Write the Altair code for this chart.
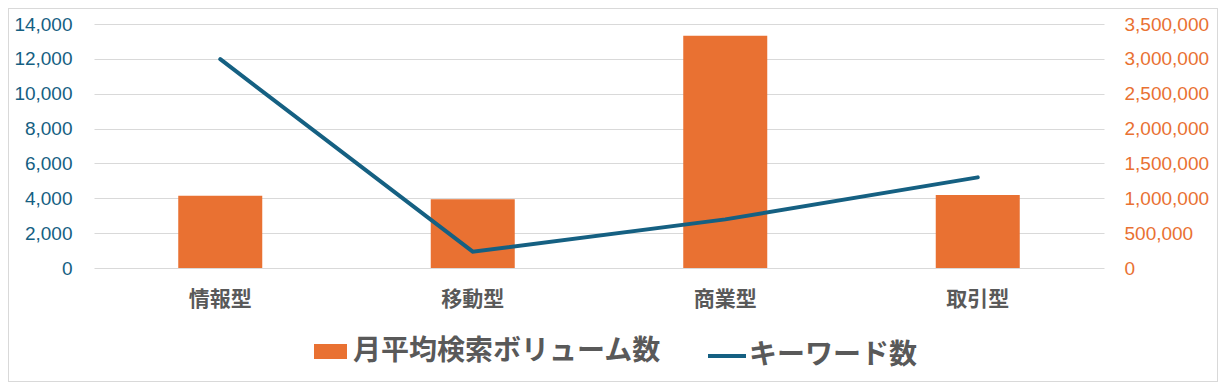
import altair as alt
import pandas as pd

categories = ["情報型", "移動型", "商業型", "取引型"]
search_volume = [1037000, 985000, 3332000, 1047000]
keyword_count = [11980, 935, 2790, 5200]
bar_series = "月平均検索ボリューム数"
line_series = "キーワード数"
left_ticks = [0, 2000, 4000, 6000, 8000, 10000, 12000, 14000]
right_ticks = [0, 500000, 1000000, 1500000, 2000000, 2500000, 3000000, 3500000]

df = pd.DataFrame({
    "cat": categories,
    "vol": search_volume,
    "kw": keyword_count,
    "s1": [bar_series] * 4,
    "s2": [line_series] * 4,
})

ORANGE = "#E97132"
BLUE = "#156082"
GRAY = "#595959"
NUM_FONT = "Liberation Sans"
CJK_FONT = "Noto Sans CJK JP"

x = alt.X(
    "cat:N",
    sort=categories,
    scale=alt.Scale(paddingInner=0, paddingOuter=0),
    axis=alt.Axis(
        title=None, domain=False, ticks=False, labelAngle=0,
        labelFont=CJK_FONT, labelFontSize=21, labelFontWeight="bold",
        labelColor=GRAY, labelPadding=20, grid=False,
    ),
)

frame = alt.Chart(df).mark_rect(fillOpacity=0, stroke="#D9D9D9", strokeWidth=1).encode(
    x=alt.value(-85.5), x2=alt.value(1123.5), y=alt.value(-15.5), y2=alt.value(357.5)
)

bars = alt.Chart(df).mark_bar(size=84, color=ORANGE).encode(
    x=x,
    y=alt.Y(
        "vol:Q",
        scale=alt.Scale(domain=[0, 3500000], nice=False),
        axis=alt.Axis(
            orient="right", title=None, values=right_ticks, format=",.0f",
            domain=False, ticks=False, labelFont=NUM_FONT, labelFontSize=19,
            labelColor=ORANGE, labelPadding=20, grid=True, gridColor="#D9D9D9",
            gridWidth=1.2,
        ),
    ),
    fill=alt.Fill(
        "s1:N",
        scale=alt.Scale(domain=[bar_series], range=[ORANGE]),
        legend=alt.Legend(
            title=None, orient="none", legendX=220, legendY=311,
            symbolType="M-1,-0.45H1V0.45H-1Z", symbolSize=1089,
            symbolStrokeWidth=0, symbolOpacity=1,
            labelFont=CJK_FONT, labelFontSize=28, labelFontWeight="bold",
            labelColor=GRAY, labelOffset=6, labelLimit=0, padding=0,
        ),
    ),
)

line = alt.Chart(df).mark_line(color=BLUE, strokeWidth=4, strokeCap="round").encode(
    x=x,
    y=alt.Y(
        "kw:Q",
        scale=alt.Scale(domain=[0, 14000], nice=False),
        axis=alt.Axis(
            orient="left", title=None, values=left_ticks, format=",.0f",
            domain=False, ticks=False, labelFont=NUM_FONT, labelFontSize=19,
            labelColor=BLUE, labelPadding=22, grid=False,
        ),
    ),
    stroke=alt.Stroke(
        "s2:N",
        scale=alt.Scale(domain=[line_series], range=[BLUE]),
        legend=alt.Legend(
            title=None, orient="none", legendX=612, legendY=311,
            symbolType="stroke", symbolSize=1444, symbolStrokeWidth=4,
            labelFont=CJK_FONT, labelFontSize=28, labelFontWeight="bold",
            labelColor=GRAY, labelOffset=1, labelLimit=0, padding=0,
        ),
    ),
)

chart = alt.layer(frame, bars, line).resolve_scale(
    y="independent", fill="independent", stroke="independent"
).properties(
    width=1010, height=244,
    background="white",
    autosize=alt.AutoSizeParams(type="none"),
    padding={"left": 86, "top": 16, "right": 114, "bottom": 114},
).configure_view(stroke=None)

chart.save("out.html", embed_options={"renderer": "svg", "actions": False})
